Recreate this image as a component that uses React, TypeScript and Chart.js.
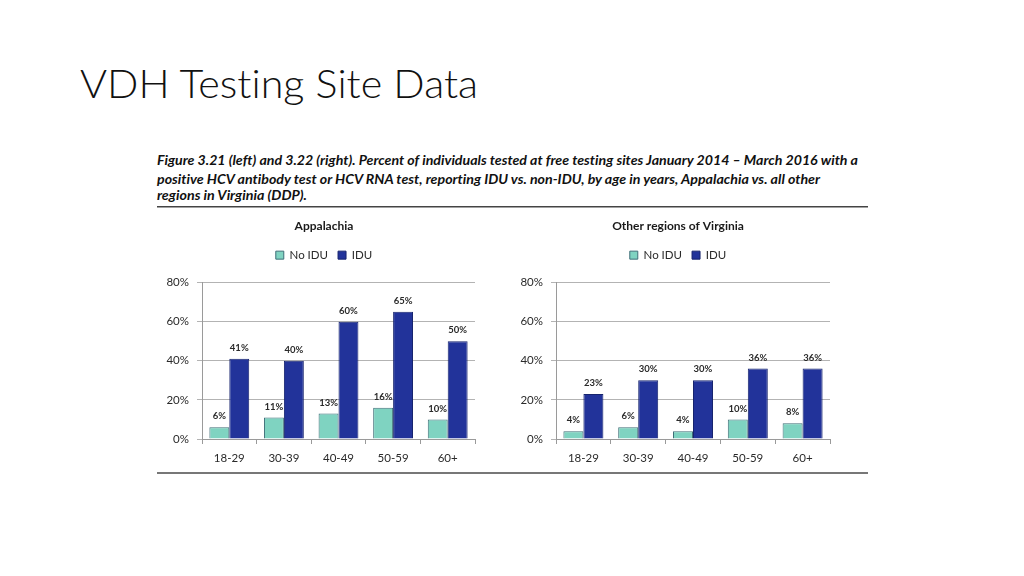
import React, { useEffect, useRef } from "react";
import { Chart, registerables } from "chart.js";

Chart.register(...registerables);

const categories = ["18-29", "30-39", "40-49", "50-59", "60+"];
const appalachiaNoIdu = [6, 11, 13, 16, 10];
const appalachiaIdu = [41, 40, 60, 65, 50];
const otherNoIdu = [4, 6, 4, 10, 8];
const otherIdu = [23, 30, 30, 36, 36];
const yTicks = [0, 20, 40, 60, 80];
const seriesNames = ["No IDU", "IDU"];

const pageTitle = "VDH Testing Site Data";
const captionLines = [
  "Figure 3.21 (left) and 3.22 (right). Percent of individuals tested at free testing sites January 2014 \u2013 March 2016 with a",
  "positive HCV antibody test or HCV RNA test, reporting IDU vs. non-IDU, by age in years, Appalachia vs. all other",
  "regions in Virginia (DDP).",
];

const FONT = "Lato, 'Open Sans', sans-serif";
const TEAL = "#7fd3c1";
const TEAL_BORDER = "#3f6f78";
const NAVY = "#22339a";
const NAVY_BORDER = "#17246e";

const dataLabelPlugin = {
  id: "dataLabels",
  afterDatasetsDraw(chart: any) {
    const ctx = chart.ctx;
    ctx.save();
    ctx.font = `bold 9.5px ${FONT}`;
    ctx.fillStyle = "#2a2a2a";
    ctx.textAlign = "center";
    ctx.textBaseline = "middle";
    chart.data.datasets.forEach((ds: any, di: number) => {
      const meta = chart.getDatasetMeta(di);
      meta.data.forEach((el: any, i: number) => {
        ctx.fillText(`${ds.data[i]}%`, el.x, el.y - 11);
      });
    });
    ctx.restore();
  },
};

function BarPanel(props: {
  title: string;
  noIdu: number[];
  idu: number[];
  left: number;
  rightGap: number;
}) {
  const ref = useRef<HTMLCanvasElement | null>(null);
  useEffect(() => {
    if (!ref.current) return;
    const chart = new Chart(ref.current, {
      type: "bar",
      data: {
        labels: categories,
        datasets: [
          {
            label: seriesNames[0],
            data: props.noIdu,
            backgroundColor: TEAL,
            borderColor: TEAL_BORDER,
            borderWidth: 1,
            xAxisID: "x",
            yAxisID: "y",
          },
          {
            label: seriesNames[1],
            data: props.idu,
            backgroundColor: NAVY,
            borderColor: NAVY_BORDER,
            borderWidth: 1,
            xAxisID: "x",
            yAxisID: "y",
          },
        ],
      },
      plugins: [dataLabelPlugin],
      options: {
        animation: false,
        responsive: false,
        devicePixelRatio: 1,
        layout: { padding: 0 },
        datasets: {
          bar: { categoryPercentage: 0.73, barPercentage: 1.0 },
        },
        plugins: {
          title: {
            display: true,
            text: props.title,
            color: "#1a1a1a",
            font: { family: FONT, size: 12, weight: "bold" },
            padding: { top: 7, bottom: 6 },
          },
          legend: {
            display: true,
            position: "top",
            labels: {
              boxWidth: 8,
              boxHeight: 8,
              padding: 10,
              color: "#2a2a2a",
              font: { family: FONT, size: 11.5 },
            },
          },
          tooltip: { enabled: false },
        },
        scales: {
          x: {
            type: "category",
            position: "bottom",
            grid: {
              display: true,
              drawOnChartArea: false,
              drawTicks: true,
              tickLength: 5,
              color: "#9a9a9a",
            },
            border: { display: true, color: "#9a9a9a" },
            ticks: {
              color: "#2a2a2a",
              font: { family: FONT, size: 11.5 },
              padding: 7,
            },
            afterFit(s: any) {
              s.height = 30;
            },
          },
          y: {
            type: "linear",
            position: "left",
            min: yTicks[0],
            max: yTicks[yTicks.length - 1],
            afterBuildTicks(s: any) {
              s.ticks = yTicks.map((v) => ({ value: v }));
            },
            grid: {
              display: true,
              drawTicks: true,
              tickLength: 5,
              color: "#b3b3b3",
            },
            border: { display: true, color: "#9a9a9a" },
            ticks: {
              color: "#2a2a2a",
              font: { family: FONT, size: 11.5 },
              padding: 8,
              callback: (v: any) => `${v}%`,
            },
            afterFit(s: any) {
              s.width = 47;
            },
          },
          gapTop: {
            type: "category",
            axis: "x",
            labels: [""],
            position: "top",
            display: true,
            grid: { display: false, drawTicks: false },
            border: { display: false },
            ticks: { display: false },
            afterFit(s: any) {
              s.height = 11.6;
            },
          },
          gapRight: {
            type: "linear",
            axis: "y",
            position: "right",
            display: true,
            grid: { display: false, drawTicks: false },
            border: { display: false },
            ticks: { display: false },
            afterFit(s: any) {
              s.width = props.rightGap;
            },
          },
        },
      } as any,
    });
    return () => chart.destroy();
  }, []);
  return (
    <div
      style={{
        position: "absolute",
        left: props.left,
        top: 212,
        width: 338,
        height: 257,
      }}
    >
      <canvas ref={ref} width={338} height={257} style={{ display: "block" }} />
    </div>
  );
}

const svgText = { fontVariantLigatures: "none" as const, fontKerning: "normal" as const };

export default function App() {
  return (
    <div
      style={{
        position: "absolute",
        left: 0,
        top: 0,
        width: 1024,
        height: 576,
        background: "#ffffff",
        overflow: "hidden",
      }}
    >
      <svg
        width={1024}
        height={576}
        style={{ position: "absolute", left: 0, top: 0 }}
      >
        <text
          x={80}
          y={98}
          fontFamily={FONT}
          fontWeight={300}
          fontSize={40}
          fill="#111111"
          textLength={398}
          lengthAdjust="spacingAndGlyphs"
          style={svgText}
        >
          {pageTitle}
        </text>
        <text
          x={157}
          y={165}
          fontFamily={FONT}
          fontWeight="bold"
          fontStyle="italic"
          fontSize={13.5}
          fill="#111111"
          textLength={701}
          lengthAdjust="spacingAndGlyphs"
          style={svgText}
        >
          {captionLines[0]}
        </text>
        <text
          x={157}
          y={184}
          fontFamily={FONT}
          fontWeight="bold"
          fontStyle="italic"
          fontSize={13.5}
          fill="#111111"
          textLength={663}
          lengthAdjust="spacingAndGlyphs"
          style={svgText}
        >
          {captionLines[1]}
        </text>
        <text
          x={157}
          y={200}
          fontFamily={FONT}
          fontWeight="bold"
          fontStyle="italic"
          fontSize={13.5}
          fill="#111111"
          textLength={150}
          lengthAdjust="spacingAndGlyphs"
          style={svgText}
        >
          {captionLines[2]}
        </text>
        <rect x={157} y={206} width={711} height={1.5} fill="#444444" />
        <rect x={157} y={472} width={711} height={2} fill="#777777" />
      </svg>
      <BarPanel
        title="Appalachia"
        noIdu={appalachiaNoIdu}
        idu={appalachiaIdu}
        left={155}
        rightGap={18}
      />
      <BarPanel
        title="Other regions of Virginia"
        noIdu={otherNoIdu}
        idu={otherIdu}
        left={509}
        rightGap={17}
      />
    </div>
  );
}
